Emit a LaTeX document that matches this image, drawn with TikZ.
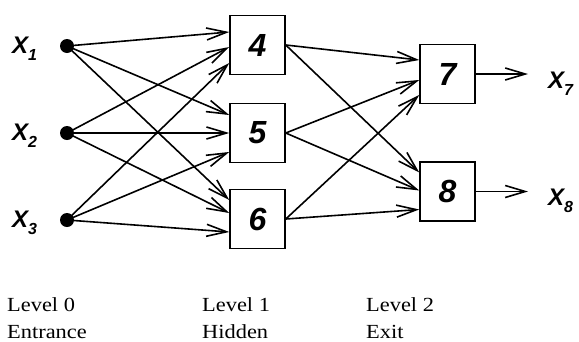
\documentclass[tikz,border=0pt]{standalone}
\usepackage{fontspec}
\setmainfont{Liberation Serif}
\newfontfamily\netfont{Liberation Sans}
\newfontfamily\capfont[FakeStretch=1.12]{Liberation Serif}
\usetikzlibrary{arrows.meta}
\begin{document}
\begin{tikzpicture}[x=1pt,y=-1pt,
  unit/.style={draw, line width=1.5pt, minimum width=55pt, minimum height=59pt,
    inner sep=0pt, font=\netfont\bfseries\itshape\fontsize{32}{32}\selectfont},
  inp/.style={circle, fill, inner sep=0pt, minimum size=14pt},
  var/.style={anchor=base west, inner sep=0pt,
    font=\netfont\bfseries\itshape\fontsize{24}{24}\selectfont},
  wire/.style={line width=1.6pt,
    -{Straight Barb[length=20pt,width=12pt,line width=1.6pt]}},
  levelcap/.style={anchor=base west, inner sep=0pt, align=left,
    font=\capfont\fontsize{20}{27}\selectfont}]
\useasboundingbox (0,0) rectangle (579,341);

\newcommand\subidx[1]{\raisebox{-7pt}{\fontsize{16}{16}\selectfont #1}}

% input layer
\node[inp] (x1) at (67,46) {};
\node[inp] (x2) at (67,133) {};
\node[inp] (x3) at (67,220) {};
\node[var] (lx1) at (12,53) {X\subidx{1}};
\node[var] (lx2) at (12,140) {X\subidx{2}};
\node[var] (lx3) at (12,227) {X\subidx{3}};

% hidden layer
\node[unit] (b4) at (257.5,45) {4};
\node[unit] (b5) at (257.5,133) {5};
\node[unit] (b6) at (257.5,219) {6};

% output layer
\node[unit] (b7) at (447.5,74) {7};
\node[unit] (b8) at (447.5,191.5) {8};

% input -> hidden
\foreach \s/\t/\d in {x1/b4/13, x2/b4/-2, x3/b4/-18,
                      x1/b5/18, x2/b5/0, x3/b5/-19,
                      x1/b6/19, x2/b6/6, x3/b6/-13}
  \draw[wire] (\s.center) -- ([yshift=\d pt]\t.west);

% hidden -> output
\foreach \s/\t/\d in {b4/b7/14, b5/b7/-6, b6/b7/-21,
                      b4/b8/19, b5/b8/1, b6/b8/-18}
  \draw[wire] (\s.east) -- ([yshift=\d pt]\t.west);

% outputs
\coordinate (o7) at (528,74);
\coordinate (o8) at (528,191.5);
\draw[wire] (b7.east) -- (o7);
\draw[wire] (b8.east) -- (o8);
\node[var] (lx7) at (548,88) {X\subidx{7}};
\node[var] (lx8) at (548,205) {X\subidx{8}};

% layer captions (anchored at the baseline of the second line)
\node[levelcap] (c0) at (7,338) {Level 0\\Entrance};
\node[levelcap] (c1) at (202,338) {Level 1\\Hidden};
\node[levelcap] (c2) at (366,338) {Level 2\\Exit};
\end{tikzpicture}
\end{document}
